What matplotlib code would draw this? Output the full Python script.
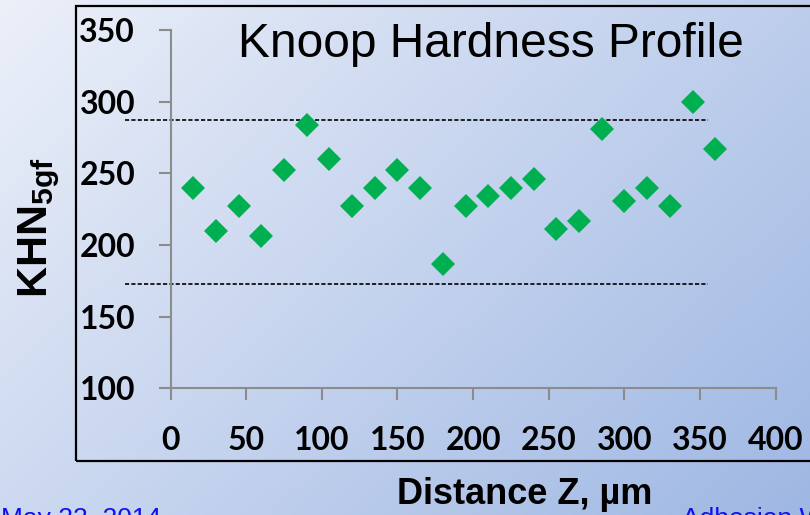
import numpy as np
import matplotlib
matplotlib.use("Agg")
import matplotlib.pyplot as plt
from matplotlib.patches import Rectangle

# Knoop hardness measurements along the depth profile
distance_um = [15, 30, 45, 60, 75, 90, 105, 120, 135, 150, 165, 180,
               195, 210, 225, 240, 255, 270, 285, 300, 315, 330, 345, 360]
khn = [240, 210, 227, 206, 252, 284, 260, 227, 240, 252, 240, 187,
       227, 234, 240, 246, 211, 217, 281, 231, 240, 227, 300, 267]

# Band limits drawn as dashed reference lines
band_upper = 287
band_lower = 173
band_x = [-30, 355]

x_ticks = [0, 50, 100, 150, 200, 250, 300, 350, 400]
y_ticks = [100, 150, 200, 250, 300, 350]

W, H = 810, 515
plt.rcParams["mathtext.fontset"] = "custom"
plt.rcParams["mathtext.bf"] = "Liberation Sans:bold"
plt.rcParams["mathtext.rm"] = "Liberation Sans"

fig = plt.figure(figsize=(W / 100, H / 100), dpi=100)


def fx(px):
    return px / W


def fy(py):
    return 1 - py / H


# Slide-style diagonal gradient background
bg = fig.add_axes([0, 0, 1, 1], zorder=-10)
bg.set_axis_off()
gx, gy = np.meshgrid(np.linspace(0, 1, 400), np.linspace(0, 1, 260))
t = np.clip(0.6 * gx + 0.4 * gy, 0, 1)[..., None]
c0 = np.array([236, 240, 249]) / 255
c1 = np.array([158, 183, 227]) / 255
img = c0 * (1 - t) + c1 * t
bg.imshow(img, extent=[0, 1, 0, 1], origin="upper", aspect="auto")
bg.set_xlim(0, 1)
bg.set_ylim(0, 1)

# Black frame around the chart area
frame = Rectangle((fx(76), fy(461)), fx(900) - fx(76), fy(6) - fy(461),
                  transform=fig.transFigure, fill=False, edgecolor="black",
                  linewidth=1.6, zorder=-5)
fig.patches.append(frame)

ax = fig.add_axes([fx(170.5), fy(388.3), fx(775.8) - fx(170.5),
                   fy(30) - fy(388.3)])
ax.set_facecolor("none")
ax.set_xlim(0, 400)
ax.set_ylim(100, 350)

gray = "#8c8c8c"
for side in ("top", "right"):
    ax.spines[side].set_visible(False)
for side in ("left", "bottom"):
    ax.spines[side].set_color(gray)
    ax.spines[side].set_linewidth(1.5)

ax.set_xticks(x_ticks)
ax.set_yticks(y_ticks)
ax.tick_params(axis="both", direction="out", length=8.5, width=1.5,
               color=gray, labelsize=23)
ax.tick_params(axis="y", pad=17)
ax.tick_params(axis="x", pad=19)
for lab in ax.get_xticklabels() + ax.get_yticklabels():
    lab.set_fontfamily("Lato")
    lab.set_fontweight("bold")

# Dashed band lines
for level in (band_upper, band_lower):
    ax.plot(band_x, [level, level], color="black", lw=1.2,
            linestyle=(0, (2.5, 1.3)), clip_on=False, zorder=2)

ax.plot(distance_um, khn, linestyle="none", marker="D", markersize=12.5,
        color="#00b050", markeredgewidth=0, zorder=3, clip_on=False)

# Titles and axis labels
fig.text(fx(491), fy(57), "Knoop Hardness Profile", ha="center",
         va="baseline", fontsize=34.5, family="Liberation Sans")
fig.text(fx(524.5), fy(504), "Distance Z, µm", ha="center", va="baseline",
         fontsize=26, fontweight="bold", family="Liberation Sans")
fig.text(fx(47), fy(298), r"$\mathbf{KHN}_{\mathbf{5gf}}$", rotation=90,
         rotation_mode="anchor", ha="left", va="baseline", fontsize=31)

# Slide footer, running off the lower edge of the slide
fig.text(fx(1), fy(526), "May 22, 2014", ha="left", va="baseline",
         fontsize=19, color="#1010ee", family="Liberation Sans")
fig.text(fx(682), fy(526), "Adhesion Workshop", ha="left", va="baseline",
         fontsize=19, color="#1010ee", family="Liberation Sans")

fig.savefig("out.png", dpi=100)
